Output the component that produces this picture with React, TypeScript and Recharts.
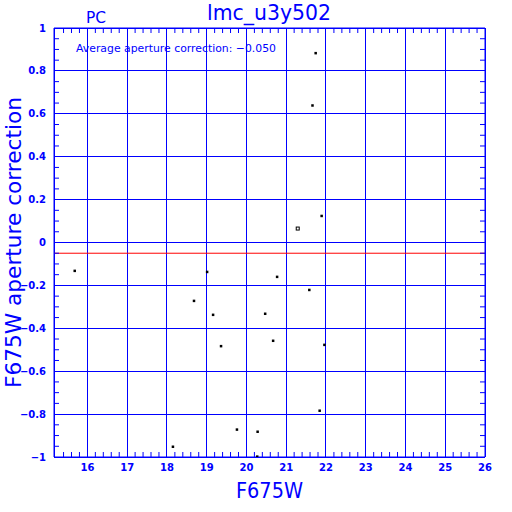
import React from "react";
import { ScatterChart, Scatter, XAxis, YAxis, CartesianGrid, ReferenceLine } from "recharts";

// F675W magnitude vs aperture correction
const stars = [
  { x: 15.68, y: -0.132 },
  { x: 18.15, y: -0.952 },
  { x: 18.68, y: -0.272 },
  { x: 19.01, y: -0.137 },
  { x: 19.16, y: -0.337 },
  { x: 19.36, y: -0.483 },
  { x: 19.76, y: -0.872 },
  { x: 20.27, y: -0.998 },
  { x: 20.28, y: -0.882 },
  { x: 20.47, y: -0.332 },
  { x: 20.67, y: -0.458 },
  { x: 20.77, y: -0.16 },
  { x: 21.58, y: -0.221 },
  { x: 21.66, y: 0.639 },
  { x: 21.74, y: 0.883 },
  { x: 21.84, y: -0.784 },
  { x: 21.89, y: 0.124 },
  { x: 21.96, y: -0.477 },
];
const refStar = [{ x: 21.29, y: 0.065 }];
const avgCorrection = -0.05;

const xTicks = [16, 17, 18, 19, 20, 21, 22, 23, 24, 25, 26];
const yTicks = [-1, -0.8, -0.6, -0.4, -0.2, 0, 0.2, 0.4, 0.6, 0.8, 1];
const xMinor = [
  15.4, 15.6, 15.8, 16.2, 16.4, 16.6, 16.8, 17.2, 17.4, 17.6, 17.8, 18.2, 18.4, 18.6, 18.8,
  19.2, 19.4, 19.6, 19.8, 20.2, 20.4, 20.6, 20.8, 21.2, 21.4, 21.6, 21.8, 22.2, 22.4, 22.6,
  22.8, 23.2, 23.4, 23.6, 23.8, 24.2, 24.4, 24.6, 24.8, 25.2, 25.4, 25.6, 25.8,
];
const yMinor = [
  -0.95, -0.9, -0.85, -0.75, -0.7, -0.65, -0.55, -0.5, -0.45, -0.35, -0.3, -0.25, -0.15, -0.1,
  -0.05, 0.05, 0.1, 0.15, 0.25, 0.3, 0.35, 0.45, 0.5, 0.55, 0.65, 0.7, 0.75, 0.85, 0.9, 0.95,
];
const none: { x: number; y: number }[] = [];

const BLUE = "#0000ff";
const xDomain: [number, number] = [15.16, 26];
const yDomain: [number, number] = [-1, 1];
const tickFont = { fill: BLUE, fontSize: 10, fontWeight: "bold", fontFamily: "DejaVu Sans" };
const fmt = (v: number) => String(v).replace("-", "\u2212");
const note = "Average aperture correction: \u22120.050";
const noLabel = () => <g />;

const Dot = (p: any) => <rect x={p.cx - 1.2} y={p.cy - 1.2} width={2.5} height={2.5} fill="#000" />;
const Hollow = (p: any) => (
  <rect x={p.cx - 1.5} y={p.cy - 1.5} width={3} height={3} fill="#fff" stroke="#000" strokeWidth={1} />
);

export default function App() {
  return (
    <div style={{ position: "absolute", left: 0, top: 0, width: 512, height: 512, background: "#fff" }}>
      <ScatterChart width={512} height={512} margin={{ top: 28, right: 27, bottom: 54, left: 53 }}>
        <CartesianGrid stroke={BLUE} strokeWidth={1} shapeRendering="crispEdges" />
        <XAxis
          type="number" dataKey="x" domain={xDomain} ticks={xTicks} allowDataOverflow interval={0}
          height={1} tickLine={false} tickSize={0} tickMargin={7}
          axisLine={{ stroke: BLUE }} tick={tickFont} tickFormatter={fmt}
        />
        <XAxis
          xAxisId="bm" dataKey="x" type="number" domain={xDomain} ticks={xMinor} allowDataOverflow interval={0}
          height={1} mirror tick={noLabel} tickSize={5} axisLine={false} tickLine={{ stroke: BLUE }}
        />
        <XAxis
          xAxisId="top" dataKey="x" orientation="top" type="number" domain={xDomain} ticks={xMinor} allowDataOverflow
          interval={0} height={1} mirror tick={noLabel} tickSize={5}
          axisLine={{ stroke: BLUE }} tickLine={{ stroke: BLUE }}
        />
        <YAxis
          type="number" dataKey="y" domain={yDomain} ticks={yTicks} allowDataOverflow interval={0}
          width={1} tickLine={false} tickSize={0} tickMargin={8}
          axisLine={{ stroke: BLUE }} tick={tickFont} tickFormatter={fmt}
        />
        <YAxis
          yAxisId="lm" dataKey="y" type="number" domain={yDomain} ticks={yMinor} allowDataOverflow interval={0}
          width={1} mirror tick={noLabel} tickSize={5} axisLine={false} tickLine={{ stroke: BLUE }}
        />
        <YAxis
          yAxisId="right" dataKey="y" orientation="right" type="number" domain={yDomain} ticks={yMinor} allowDataOverflow
          interval={0} width={1} mirror tick={noLabel} tickSize={5}
          axisLine={{ stroke: BLUE }} tickLine={{ stroke: BLUE }}
        />
        <ReferenceLine y={avgCorrection} stroke="#ff0000" strokeWidth={1} />
        <Scatter data={none} xAxisId="bm" yAxisId="lm" isAnimationActive={false} />
        <Scatter data={none} xAxisId="top" yAxisId="right" isAnimationActive={false} />
        <Scatter data={stars} shape={Dot} isAnimationActive={false} />
        <Scatter data={refStar} shape={Hollow} isAnimationActive={false} />
      </ScatterChart>
      <svg width={512} height={512} style={{ position: "absolute", left: 0, top: 0, pointerEvents: "none" }}>
        <g fill={BLUE} fontFamily="DejaVu Sans">
          <text x={207} y={20} fontSize={22} textLength={124} lengthAdjust="spacingAndGlyphs">
            lmc_u3y502
          </text>
          <text x={86} y={23} fontSize={15} textLength={20} lengthAdjust="spacingAndGlyphs">
            PC
          </text>
          <text x={76} y={52} fontSize={11} textLength={200} lengthAdjust="spacingAndGlyphs">
            {note}
          </text>
          <text x={236} y={498} fontSize={22} textLength={67} lengthAdjust="spacingAndGlyphs">
            F675W
          </text>
          <text
            x={0} y={0} fontSize={21} textLength={291} lengthAdjust="spacingAndGlyphs"
            transform="translate(21 388) rotate(-90)"
          >
            F675W aperture correction
          </text>
        </g>
      </svg>
    </div>
  );
}
